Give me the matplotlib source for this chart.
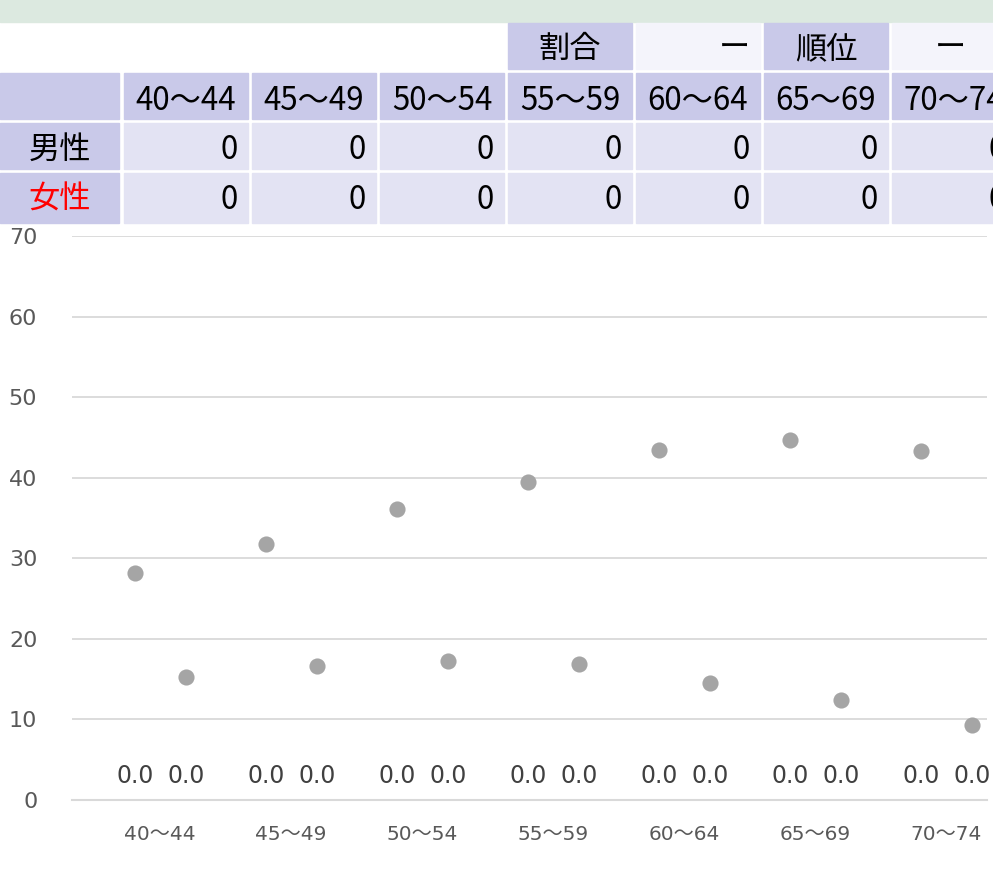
import matplotlib.pyplot as plt
from matplotlib.patches import Rectangle

plt.rcParams['font.family'] = ['Noto Sans CJK JP', 'DejaVu Sans']
chart_font = ['DejaVu Sans', 'Noto Sans CJK JP']

# data
ages = ['40～44', '45～49', '50～54', '55～59', '60～64', '65～69', '70～74']
male_count = [0, 0, 0, 0, 0, 0, 0]
female_count = [0, 0, 0, 0, 0, 0, 0]
male_bar = [0.0, 0.0, 0.0, 0.0, 0.0, 0.0, 0.0]
female_bar = [0.0, 0.0, 0.0, 0.0, 0.0, 0.0, 0.0]
male_point = [28.2, 31.8, 36.1, 39.5, 43.5, 44.7, 43.3]
female_point = [15.3, 16.6, 17.2, 16.9, 14.5, 12.4, 9.3]
top_row = ['', '', '', '', '割合', 'ー', '順位', 'ー']
row_names = ['男性', '女性']
row_colors = ['#000000', '#ff0000']

W, H = 993, 871
fig = plt.figure(figsize=(W / 100, H / 100), dpi=100)

# ---- chart ----
ax = fig.add_axes([72 / W, 1 - 800 / H, 915 / W, 564 / H])
x = list(range(len(ages)))
xm = [i - 0.19 for i in x]
xf = [i + 0.2 for i in x]

b1 = ax.bar(xm, male_bar, width=0.3, color='#4472c4')
b2 = ax.bar(xf, female_bar, width=0.3, color='#ed7d31')
for b in (b1, b2):
    labs = ax.bar_label(b, fmt='%.1f', padding=9, fontsize=17, color='#404040')
    for t in labs:
        t.set_fontfamily(chart_font)

ax.scatter(xm, male_point, s=135, color='#a5a5a5', zorder=3, linewidths=0)
ax.scatter(xf, female_point, s=135, color='#a5a5a5', zorder=3, linewidths=0)

ax.set_xlim(-0.672, 6.313)
ax.set_ylim(0, 70)
ax.set_yticks(range(0, 71, 10))
ax.set_xticks(x)
ax.set_xticklabels(ages)
for t in ax.get_xticklabels() + ax.get_yticklabels():
    t.set_fontfamily(chart_font)
ax.grid(axis='y', color='#d9d9d9', linewidth=1.3)
ax.set_axisbelow(True)
for s in ['top', 'right', 'left']:
    ax.spines[s].set_visible(False)
ax.spines['bottom'].set_color('#d9d9d9')
ax.spines['bottom'].set_linewidth(1.5)
ax.tick_params(axis='y', length=0, pad=25, labelsize=16, labelcolor='#595959')
ax.tick_params(axis='x', length=0, pad=18, labelsize=14.5, labelcolor='#595959')

# ---- table on top ----
tb = fig.add_axes([0, 0, 1, 1], zorder=5)
tb.set_xlim(0, W)
tb.set_ylim(H, 0)
tb.axis('off')
tb.patch.set_alpha(0)

hdr = '#c9c9e9'
cell = '#e3e3f3'
light = '#f4f4fb'
fs = 22.5

tb.add_patch(Rectangle((0, 0), W, 22, color='#dce9e0'))

col_x = [0] + [124 + 128 * k for k in range(len(ages))]
col_w = [119] + [124] * len(ages)
rows_y = [(23, 46), (73, 46), (123, 46), (173, 50)]

# top row
for k, lab in enumerate(top_row):
    if lab == '':
        continue
    x0, w = col_x[k], col_w[k]
    y0, h = rows_y[0]
    fc = hdr if lab in ('割合', '順位') else light
    tb.add_patch(Rectangle((x0, y0), w, h, color=fc))
    if fc == hdr:
        tb.text(x0 + w / 2, y0 + h / 2 + 3, lab, ha='center', va='center', fontsize=fs)
    elif k == len(top_row) - 1:
        tb.text(x0 + w / 2 - 4, y0 + h / 2 + 3, lab, ha='center', va='center', fontsize=fs)
    else:
        tb.text(x0 + w - 10, y0 + h / 2 + 3, lab, ha='right', va='center', fontsize=fs)

# header row
y0, h = rows_y[1]
tb.add_patch(Rectangle((col_x[0], y0), col_w[0], h, color=hdr))
for k, lab in enumerate(ages):
    x0, w = col_x[k + 1], col_w[k + 1]
    tb.add_patch(Rectangle((x0, y0), w, h, color=hdr))
    tb.text(x0 + w / 2, y0 + h / 2 + 5, lab, ha='center', va='center', fontsize=fs)

# value rows
for r, (name, vals) in enumerate(zip(row_names, [male_count, female_count])):
    y0, h = rows_y[r + 2]
    tb.add_patch(Rectangle((col_x[0], y0), col_w[0], h, color=hdr))
    tb.text(col_x[0] + col_w[0] / 2, y0 + 27, name, ha='center', va='center',
            fontsize=fs, color=row_colors[r])
    for k, v in enumerate(vals):
        x0, w = col_x[k + 1], col_w[k + 1]
        tb.add_patch(Rectangle((x0, y0), w, h, color=cell))
        tb.text(x0 + w - 10, y0 + 27, str(v), ha='right', va='center', fontsize=fs)

fig.savefig('out.png', dpi=100)
